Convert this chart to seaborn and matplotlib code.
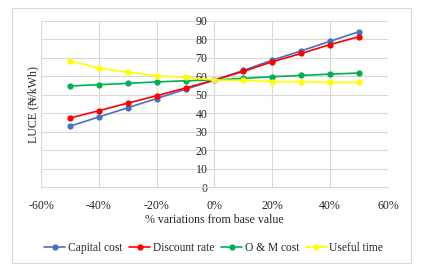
import pandas as pd
import numpy as np
import matplotlib
matplotlib.use('Agg')
import matplotlib.pyplot as plt
import seaborn as sns
from matplotlib.patches import Rectangle
from matplotlib.ticker import FuncFormatter

variation = [-50, -40, -30, -20, -10, 0, 10, 20, 30, 40, 50]
capital_cost = [33, 38, 43, 48, 53, 58, 63.2, 68.8, 73.8, 79, 84.2]
discount_rate = [37.4, 41.4, 45.5, 49.5, 53.7, 58, 62.7, 67.9, 72.4, 77.2, 81.5]
om_cost = [54.8, 55.5, 56.2, 57, 57.6, 58, 58.9, 59.8, 60.5, 61.2, 61.8]
useful_time = [68.3, 64.5, 62.2, 60.4, 59.4, 58, 57.8, 57.2, 57.1, 56.8, 56.8]

series_names = ['Capital cost', 'Discount rate', 'O & M cost', 'Useful time']
colors = ['#4472C4', '#FF0000', '#00B050', '#FFFF00']

frames = []
for name, vals in zip(series_names, [capital_cost, discount_rate, om_cost, useful_time]):
    frames.append(pd.DataFrame({'variation': variation, 'luce': vals, 'series': name}))
df = pd.concat(frames, ignore_index=True)

sns.set_style('white')
plt.rcParams['font.family'] = ['Liberation Serif', 'DejaVu Serif']
fs = 8.6

fig = plt.figure(figsize=(4.23, 2.76), dpi=100)
ax = fig.add_axes([0.097, 0.322, 0.82, 0.602])

sns.lineplot(data=df, x='variation', y='luce', hue='series', hue_order=series_names,
             palette=colors, marker='o', markersize=4.5, markeredgewidth=0,
             linewidth=1.2, ax=ax)

ax.set_xlim(-60, 60)
ax.set_ylim(0, 90)
ax.set_xticks(range(-60, 61, 20))
ax.set_yticks(range(0, 91, 10))
ax.xaxis.set_major_formatter(FuncFormatter(lambda v, p: f'{int(v)}%'))
ax.grid(True, color='#d9d9d9', linewidth=0.8)
ax.set_axisbelow(True)

for s in ['top', 'right']:
    ax.spines[s].set_visible(False)
ax.spines['left'].set_position(('data', 0))
ax.spines['left'].set_color('#d9d9d9')
ax.spines['bottom'].set_color('#d9d9d9')
ax.tick_params(axis='y', length=4, color='#bfbfbf', pad=1, labelsize=fs)
ax.tick_params(axis='x', length=0, pad=9, labelsize=fs)

ax.set_xlabel('% variations from base value', fontsize=fs, labelpad=2)
ax.set_ylabel('')
fig.text(0.078, 0.62, 'LUCE (₦/kWh)', rotation=90, ha='center', va='center', fontsize=fs)

handles, labels = ax.get_legend_handles_labels()
ax.legend_.remove()
fig.legend(handles, labels, loc='center', bbox_to_anchor=(0.505, 0.101), ncol=4,
           frameon=False, fontsize=8.3, handlelength=1.85, columnspacing=0.6,
           handletextpad=0.2)

fig.patches.append(Rectangle((0.028, 0.047), 0.944, 0.924, transform=fig.transFigure,
                             fill=False, edgecolor='#d9d9d9', linewidth=0.8))

fig.savefig('out.png', dpi=100)
